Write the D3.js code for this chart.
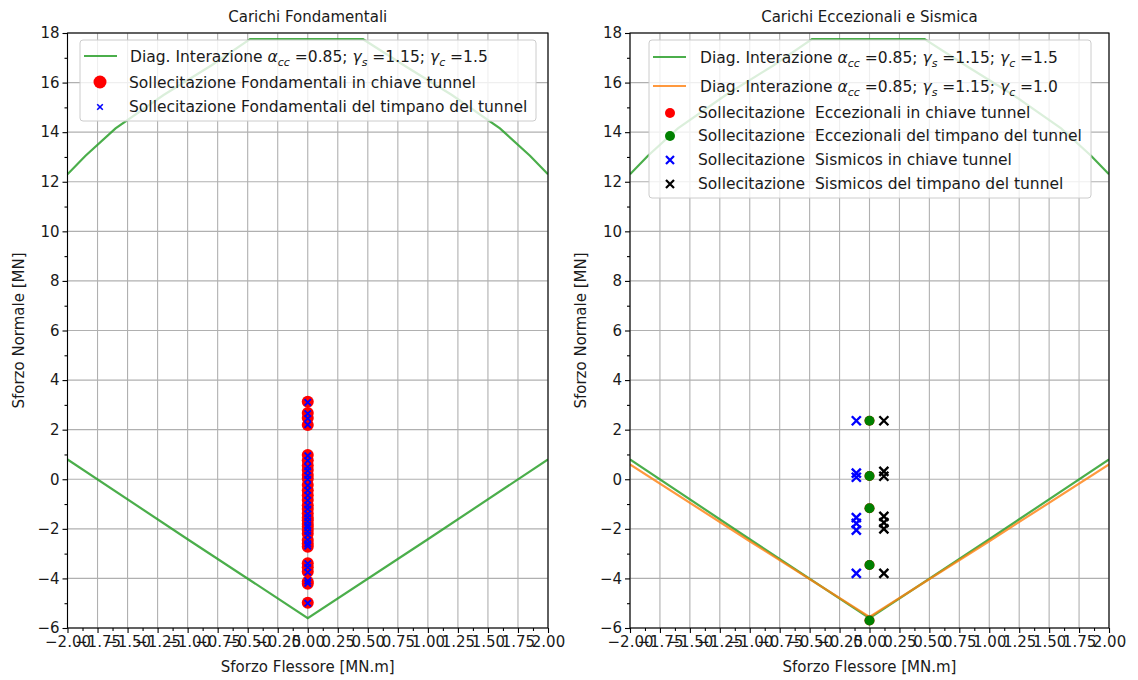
<!DOCTYPE html>
<html><head><meta charset="utf-8">
<script src="https://cdn.jsdelivr.net/npm/d3@7"></script>
<style>body{margin:0;background:#fff} svg{font-family:"DejaVu Sans",sans-serif}</style>
</head><body>
<svg id="c" width="1138" height="680"></svg>
<script>
// ---------- data ----------
const xTickValues = [-2,-1.75,-1.5,-1.25,-1,-0.75,-0.5,-0.25,0,0.25,0.5,0.75,1,1.25,1.5,1.75,2];
const yTickValues = [-6,-4,-2,0,2,4,6,8,10,12,14,16,18];

// interaction diagram (gamma_c = 1.5), upper and lower branches
const diagUpM = [-2, -1.85, -1.6, -1.2, -0.8, -0.48, 0.46, 0.8, 1.2, 1.6, 1.85, 2];
const diagUpN = [12.3, 13.05, 14.15, 15.5, 16.7, 17.75, 17.75, 16.7, 15.5, 14.15, 13.05, 12.3];
const diagLowM = [-2, -1, 0, 1, 2];
const diagLowN15 = [0.8, -2.42, -5.6, -2.42, 0.8];
// interaction diagram (gamma_c = 1.0), lower branch (upper one out of range)
const diagLowN10 = [0.6, -2.5, -5.55, -2.5, 0.6];

// Carichi Fondamentali
const fondChiaveN = [3.13, 2.67, 2.47, 2.19, 0.98, 0.77, 0.55, 0.37, 0.17, 0.02, -0.23, -0.44, -0.65, -0.84, -1.05, -1.2, -1.38, -1.55, -1.65, -1.8, -1.92, -2.05, -2.2, -2.45, -2.6, -2.72, -3.39, -3.55, -3.73, -4.13, -4.22, -4.98];
const fondChiaveM = fondChiaveN.map(() => 0);
const fondTimpanoN = [3.1, 2.65, 2.45, 2.2, 0.95, 0.75, 0.5, 0.35, 0.15, 0.0, -0.25, -0.45, -0.65, -0.85, -1.05, -1.2, -1.4, -1.55, -1.7, -1.85, -1.95, -2.1, -2.25, -2.45, -2.6, -2.7, -3.4, -3.55, -3.75, -4.1, -4.2, -5.0];
const fondTimpanoM = fondTimpanoN.map(() => 0);

// Carichi Eccezionali e Sismica
const eccChiaveN = [2.36, 0.13, -1.17, -3.46, -5.7];
const eccChiaveM = [0, 0, 0, 0, 0];
const eccTimpanoN = [2.36, 0.13, -1.17, -3.46, -5.7];
const eccTimpanoM = [0, 0, 0, 0, 0];
const sisChiaveN = [2.36, 0.25, 0.08, -1.55, -1.78, -2.05, -3.8];
const sisChiaveM = [-0.11, -0.11, -0.11, -0.11, -0.11, -0.11, -0.11];
const sisTimpanoN = [2.36, 0.32, 0.12, -1.5, -1.75, -2.0, -3.8];
const sisTimpanoM = [0.12, 0.12, 0.12, 0.12, 0.12, 0.12, 0.12];

// ---------- drawing ----------
const svg = d3.select("#c");
const GREEN = "#2ca02c", ORANGE = "#ff7f0e";
const TXT = "#1a1a1a";
const fmtX = v => d3.format(".2f")(v).replace("-", "\u2212");
const fmtY = v => String(v).replace("-", "\u2212");

function panel(x0, x1, y0, y1, id, title) {
  const x = d3.scaleLinear().domain([-2, 2]).range([x0, x1]);
  const y = d3.scaleLinear().domain([-6, 18]).range([y1, y0]);
  const g = svg.append("g");
  svg.append("clipPath").attr("id", id).append("rect")
    .attr("x", x0).attr("y", y0).attr("width", x1 - x0).attr("height", y1 - y0);
  // grid
  g.append("g").selectAll("line").data(xTickValues).join("line")
    .attr("x1", d => x(d)).attr("x2", d => x(d)).attr("y1", y0).attr("y2", y1)
    .attr("stroke", "#b0b0b0").attr("stroke-width", 1.1);
  g.append("g").selectAll("line").data(yTickValues).join("line")
    .attr("y1", d => y(d)).attr("y2", d => y(d)).attr("x1", x0).attr("x2", x1)
    .attr("stroke", "#b0b0b0").attr("stroke-width", 1.1);
  // axes
  const xa = g.append("g").attr("transform", `translate(0,${y1})`)
    .call(d3.axisBottom(x).tickValues(xTickValues).tickFormat(fmtX).tickSize(5).tickPadding(3));
  const xm = g.append("g").attr("transform", `translate(0,${y1})`)
    .call(d3.axisBottom(x).tickValues(xTickValues.slice(0, -1).map((v, i) => (v + xTickValues[i + 1]) / 2)).tickFormat("").tickSize(3));
  const ya = g.append("g").attr("transform", `translate(${x0},0)`)
    .call(d3.axisLeft(y).tickValues(yTickValues).tickFormat(fmtY).tickSize(5).tickPadding(3));
  const ym = g.append("g").attr("transform", `translate(${x0},0)`)
    .call(d3.axisLeft(y).tickValues(yTickValues.slice(0, -1).map((v, i) => (v + yTickValues[i + 1]) / 2)).tickFormat("").tickSize(3));
  [xa, xm, ya, ym].forEach(a => {
    a.select(".domain").remove();
    a.selectAll("line").attr("stroke", "#000").attr("stroke-width", 1.1);
    a.selectAll("text").attr("font-size", 15).attr("fill", TXT).attr("font-family", '"DejaVu Sans"');
  });
  // title & labels
  svg.append("text").attr("x", (x0 + x1) / 2).attr("y", 22).attr("text-anchor", "middle")
    .attr("font-size", 15).attr("fill", TXT).text(title);
  svg.append("text").attr("x", (x0 + x1) / 2).attr("y", 672).attr("text-anchor", "middle")
    .attr("font-size", 15).attr("fill", TXT).text("Sforzo Flessore [MN.m]");
  svg.append("text").attr("transform", `translate(${x0 - 44},${(y0 + y1) / 2}) rotate(-90)`)
    .attr("text-anchor", "middle").attr("font-size", 15).attr("fill", TXT).text("Sforzo Normale [MN]");
  const plot = svg.append("g").attr("clip-path", `url(#${id})`);
  return {x, y, g, plot, x0, x1, y0, y1};
}

function linePath(p, M, N, color, op) {
  const line = d3.line().x((d, i) => p.x(M[i])).y(d => p.y(d));
  p.plot.append("path").attr("d", line(N)).attr("fill", "none")
    .attr("stroke", color).attr("stroke-width", 2.2).attr("stroke-opacity", op);
}
function circles(p, M, N, color, r) {
  p.plot.append("g").selectAll("circle").data(N).join("circle")
    .attr("cx", (d, i) => p.x(M[i])).attr("cy", d => p.y(d)).attr("r", r).attr("fill", color);
}
function xsym(sel, cx, cy, s) {
  return `M${cx - s},${cy - s}L${cx + s},${cy + s}M${cx - s},${cy + s}L${cx + s},${cy - s}`;
}
function crosses(p, M, N, color, s, w) {
  p.plot.append("g").selectAll("path").data(N).join("path")
    .attr("d", (d, i) => xsym(null, p.x(M[i]), p.y(d), s))
    .attr("stroke", color).attr("stroke-width", w).attr("fill", "none");
}
function frame(p) {
  svg.append("rect").attr("x", p.x0).attr("y", p.y0).attr("width", p.x1 - p.x0).attr("height", p.y1 - p.y0)
    .attr("fill", "none").attr("stroke", "#000").attr("stroke-width", 1.1);
}
function mathLabel(t, gc) {
  t.append("tspan").text("Diag. Interazione ");
  t.append("tspan").attr("font-style", "italic").text("α");
  t.append("tspan").attr("font-style", "italic").attr("font-size", 11).attr("dy", 4).text("cc");
  t.append("tspan").attr("dy", -4).text(" =0.85; ");
  t.append("tspan").attr("font-style", "italic").text("γ");
  t.append("tspan").attr("font-style", "italic").attr("font-size", 11).attr("dy", 4).text("s");
  t.append("tspan").attr("dy", -4).text(" =1.15; ");
  t.append("tspan").attr("font-style", "italic").text("γ");
  t.append("tspan").attr("font-style", "italic").attr("font-size", 11).attr("dy", 4).text("c");
  t.append("tspan").attr("dy", -4).text(" =" + gc);
}

// ---- left panel ----
const L = panel(67.5, 548, 33, 628, "clipL", "Carichi Fondamentali");
linePath(L, diagUpM, diagUpN, GREEN, 0.85);
linePath(L, diagLowM, diagLowN15, GREEN, 0.85);
circles(L, fondChiaveM, fondChiaveN, "red", 6);
crosses(L, fondTimpanoM, fondTimpanoN, "blue", 3.2, 1.8);
frame(L);
{
  const lg = svg.append("g");
  lg.append("rect").attr("x", 80).attr("y", 40).attr("width", 456).attr("height", 81).attr("rx", 3)
    .attr("fill", "#fff").attr("fill-opacity", 0.8).attr("stroke", "#cccccc");
  lg.append("line").attr("x1", 84).attr("x2", 117).attr("y1", 56).attr("y2", 56)
    .attr("stroke", GREEN).attr("stroke-width", 2.2).attr("stroke-opacity", 0.85);
  const t1 = lg.append("text").attr("x", 130).attr("y", 62).attr("font-size", 15.5).attr("fill", TXT);
  mathLabel(t1, "1.5");
  lg.append("circle").attr("cx", 100).attr("cy", 82).attr("r", 6.5).attr("fill", "red");
  lg.append("text").attr("x", 129).attr("y", 88).attr("font-size", 15.5).attr("fill", TXT)
    .text("Sollecitazione Fondamentali in chiave tunnel");
  lg.append("path").attr("d", xsym(null, 100, 107, 2.8)).attr("stroke", "blue").attr("stroke-width", 1.6);
  lg.append("text").attr("x", 129).attr("y", 112).attr("font-size", 15.5).attr("fill", TXT)
    .text("Sollecitazione Fondamentali del timpano del tunnel");
}

// ---- right panel ----
const R = panel(630, 1109, 33, 628, "clipR", "Carichi Eccezionali e Sismica");
linePath(R, diagUpM, diagUpN, GREEN, 0.85);
linePath(R, diagLowM, diagLowN15, GREEN, 0.85);
linePath(R, diagLowM, diagLowN10, ORANGE, 0.8);
circles(R, eccChiaveM, eccChiaveN, "red", 5);
circles(R, eccTimpanoM, eccTimpanoN, "green", 5);
crosses(R, sisChiaveM, sisChiaveN, "blue", 4.5, 2.4);
crosses(R, sisTimpanoM, sisTimpanoN, "black", 4.5, 2.4);
frame(R);
{
  const lg = svg.append("g");
  lg.append("rect").attr("x", 649).attr("y", 40).attr("width", 442).attr("height", 158).attr("rx", 3)
    .attr("fill", "#fff").attr("fill-opacity", 0.8).attr("stroke", "#cccccc");
  lg.append("line").attr("x1", 653).attr("x2", 686).attr("y1", 57).attr("y2", 57)
    .attr("stroke", GREEN).attr("stroke-width", 2.2).attr("stroke-opacity", 0.85);
  mathLabel(lg.append("text").attr("x", 700).attr("y", 63).attr("font-size", 15.5).attr("fill", TXT), "1.5");
  lg.append("line").attr("x1", 653).attr("x2", 686).attr("y1", 86).attr("y2", 86)
    .attr("stroke", ORANGE).attr("stroke-width", 2.2).attr("stroke-opacity", 0.8);
  mathLabel(lg.append("text").attr("x", 700).attr("y", 92).attr("font-size", 15.5).attr("fill", TXT), "1.0");
  const rows = [
    ["c", "red", "Sollecitazione\u00a0\u00a0Eccezionali in chiave tunnel", 113],
    ["c", "green", "Sollecitazione\u00a0\u00a0Eccezionali del timpano del tunnel", 136],
    ["x", "blue", "Sollecitazione\u00a0\u00a0Sismicos in chiave tunnel", 160],
    ["x", "black", "Sollecitazione\u00a0\u00a0Sismicos del timpano del tunnel", 184]
  ];
  rows.forEach(([k, col, txt, cy]) => {
    if (k === "c") lg.append("circle").attr("cx", 670).attr("cy", cy).attr("r", 5).attr("fill", col);
    else lg.append("path").attr("d", xsym(null, 670, cy, 4)).attr("stroke", col).attr("stroke-width", 2.2);
    lg.append("text").attr("x", 698).attr("y", cy + 5).attr("font-size", 15.5).attr("fill", TXT).text(txt);
  });
}
</script>
</body></html>
